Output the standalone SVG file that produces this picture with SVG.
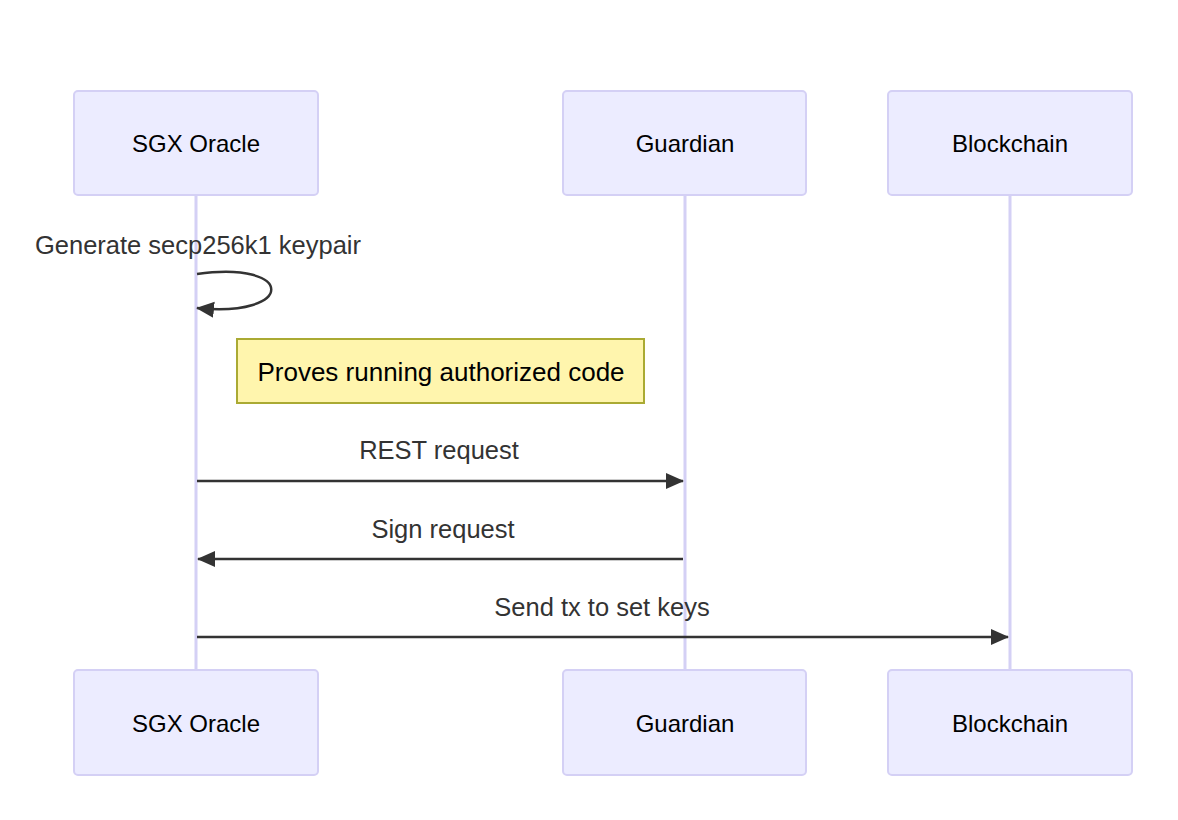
<svg xmlns="http://www.w3.org/2000/svg" width="1178" height="820" viewBox="0 0 1178 820">
<style>
.actor{fill:#ececff;stroke:#d4d0f5;stroke-width:2}
.atext{font-family:"Liberation Sans",Arial,sans-serif;font-size:24px;fill:#000;text-anchor:middle;dominant-baseline:central}
.life{stroke:#d4d0f5;stroke-width:3}
.msg{stroke:#333;stroke-width:2.5;fill:none}
.mtext{font-family:"Liberation Sans",Arial,sans-serif;font-size:25.5px;fill:#333;text-anchor:middle}
.note{fill:#fff5ad;stroke:#aaaa33;stroke-width:2}
.ntext{font-family:"Liberation Sans",Arial,sans-serif;font-size:26px;fill:#000;text-anchor:middle;dominant-baseline:central}
</style>
<defs>
<marker id="arrowL" markerWidth="18" markerHeight="18" refX="17" refY="9" orient="auto" markerUnits="userSpaceOnUse" viewBox="0 0 18 18">
<path d="M0,1 L18,9 L0,17 z" fill="#333"/>
</marker>
</defs>
<rect width="1178" height="820" fill="#fff"/>
<g id="lifelines">
<line class="life" x1="196" y1="195" x2="196" y2="670"/>
<line class="life" x1="685" y1="195" x2="685" y2="670"/>
<line class="life" x1="1010" y1="195" x2="1010" y2="670"/>
</g>
<g id="sgx-top"><rect class="actor" x="74" y="91" width="244" height="104" rx="4"/><text class="atext" x="196" y="143">SGX Oracle</text></g>
<g id="guardian-top"><rect class="actor" x="563" y="91" width="243" height="104" rx="4"/><text class="atext" x="685" y="143">Guardian</text></g>
<g id="blockchain-top"><rect class="actor" x="888" y="91" width="244" height="104" rx="4"/><text class="atext" x="1010" y="143">Blockchain</text></g>
<g id="sgx-bottom"><rect class="actor" x="74" y="670" width="244" height="105" rx="4"/><text class="atext" x="196" y="723">SGX Oracle</text></g>
<g id="guardian-bottom"><rect class="actor" x="563" y="670" width="243" height="105" rx="4"/><text class="atext" x="685" y="723">Guardian</text></g>
<g id="blockchain-bottom"><rect class="actor" x="888" y="670" width="244" height="105" rx="4"/><text class="atext" x="1010" y="723">Blockchain</text></g>
<g id="note"><rect class="note" x="237" y="339" width="407" height="64"/><text class="ntext" x="441" y="372">Proves running authorized code</text></g>
<g id="connectors">
<path class="msg" d="M197,274 C296,260 296,318 197,308" marker-end="url(#arrowL)"/>
<text class="mtext" x="198" y="254">Generate secp256k1 keypair</text>
<line class="msg" x1="197" y1="481" x2="683" y2="481" marker-end="url(#arrowL)"/>
<text class="mtext" x="439" y="459">REST request</text>
<line class="msg" x1="683" y1="559" x2="198" y2="559" marker-end="url(#arrowL)"/>
<text class="mtext" x="443" y="538">Sign request</text>
<line class="msg" x1="197" y1="637" x2="1008" y2="637" marker-end="url(#arrowL)"/>
<text class="mtext" x="602" y="616">Send tx to set keys</text>
</g>
</svg>
